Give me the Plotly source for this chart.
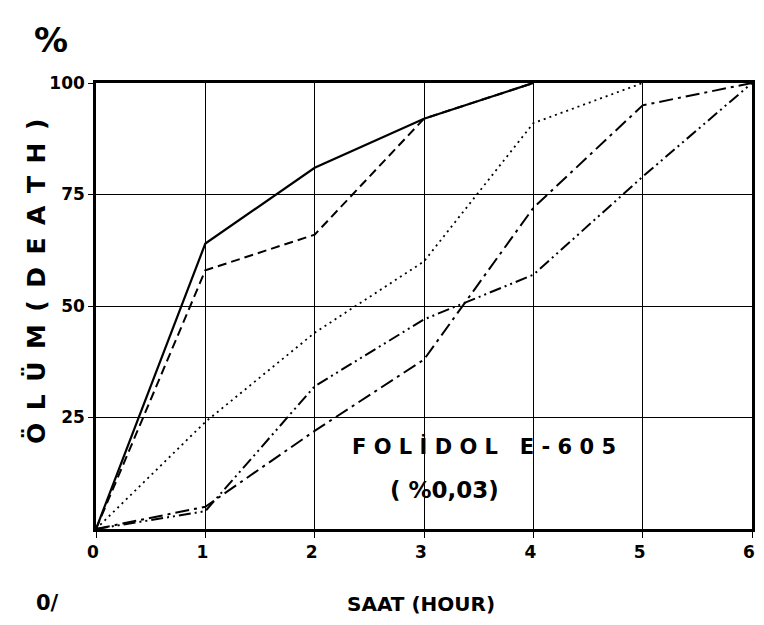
import plotly.graph_objects as go

hours = [0, 1, 2, 3, 4, 5, 6]
solid = [0, 64, 81, 92, 100]
dashed = [0, 58, 66, 92, 100]
dotted = [0, 24, 44, 60, 91, 100]
dashdot = [0, 5, 22, 38, 72, 95, 100]
dashdotdot = [0, 4, 32, 47, 57, 79, 100]

x_ticks = [0, 1, 2, 3, 4, 5, 6]
y_ticks = [25, 50, 75, 100]

series = [
    (solid, "solid", 2.2),
    (dashed, "9px,5px", 2.0),
    (dotted, "2px,4px", 1.8),
    (dashdot, "14px,5px,3px,5px", 2.0),
    (dashdotdot, "12px,4px,2px,4px,2px,4px", 2.0),
]

fig = go.Figure()
for ys, dash, w in series:
    fig.add_trace(go.Scatter(x=hours[:len(ys)], y=ys, mode="lines",
                             line=dict(color="black", width=w, dash=dash),
                             showlegend=False, hoverinfo="skip"))

FONT = "DejaVu Sans"
# page offset of 8px (body margin) compensated; avoid page overflow
OFF = 8
W, H = 764 - 2 * OFF, 625 - 2 * OFF
PL, PR, PT, PB = 96, 752, 83, 529  # desired plot area in page pixels
L, T = PL - OFF, PT - OFF
R, B = W - (PR - OFF), H - (PB - OFF)

def px(xp):
    return (xp - PL) / (PR - PL)

def py(yp):
    return (PB - yp) / (PB - PT)

fig.update_layout(
    width=W, height=H,
    margin=dict(l=L, r=R, t=T, b=B, autoexpand=False),
    paper_bgcolor="white", plot_bgcolor="white",
    font=dict(family=FONT, color="black"),
    xaxis=dict(range=[0, 6], tickvals=x_ticks, ticktext=[str(v) for v in x_ticks],
               showgrid=True, gridcolor="black", gridwidth=1.2,
               showline=True, linecolor="black", linewidth=2.5, mirror=True,
               ticks="outside", ticklen=6, tickwidth=1.2, tickcolor="black",
               tickfont=dict(size=17, family=FONT, weight="bold"),
               ticklabeloverflow="allow", ticklabelshift=-3,
               zeroline=False, automargin=False),
    yaxis=dict(range=[0, 100], tickvals=y_ticks, ticktext=[str(v) for v in y_ticks],
               showgrid=True, gridcolor="black", gridwidth=1.2,
               showline=True, linecolor="black", linewidth=2.5, mirror=True,
               ticks="outside", ticklen=5, tickwidth=1.2, tickcolor="black",
               tickfont=dict(size=17, family=FONT, weight="bold"),
               zeroline=False, automargin=False),
)

sp = "\u2002"
ytitle = sp.join(["Ö", "L", "Ü", "M", "", "(", "D", "E", "A", "T", "H", ")"]).replace(sp + sp, sp)
ann = [
    dict(text="<b>%</b>", x=px(51), y=py(40), size=34, angle=0),
    dict(text="<b>" + ytitle + "</b>", x=px(36), y=py(282), size=25, angle=-90),
    dict(text="<b>F O L İ D O L   E - 6 0 5</b>", x=px(484), y=py(446), size=21, angle=0),
    dict(text="<b>( %0,03)</b>", x=px(444), y=py(490), size=23, angle=0),
    dict(text="<b>SAAT (HOUR)</b>", x=px(421), y=py(604), size=20, angle=0),
    dict(text="<b>0/</b>", x=px(47), y=py(603), size=21, angle=0),
]
for a in ann:
    fig.add_annotation(text=a["text"], x=a["x"], y=a["y"], xref="paper", yref="paper",
                       showarrow=False, textangle=a["angle"],
                       font=dict(size=a["size"], family=FONT, color="black"),
                       xanchor="center", yanchor="middle")

fig.write_html("out.html")
